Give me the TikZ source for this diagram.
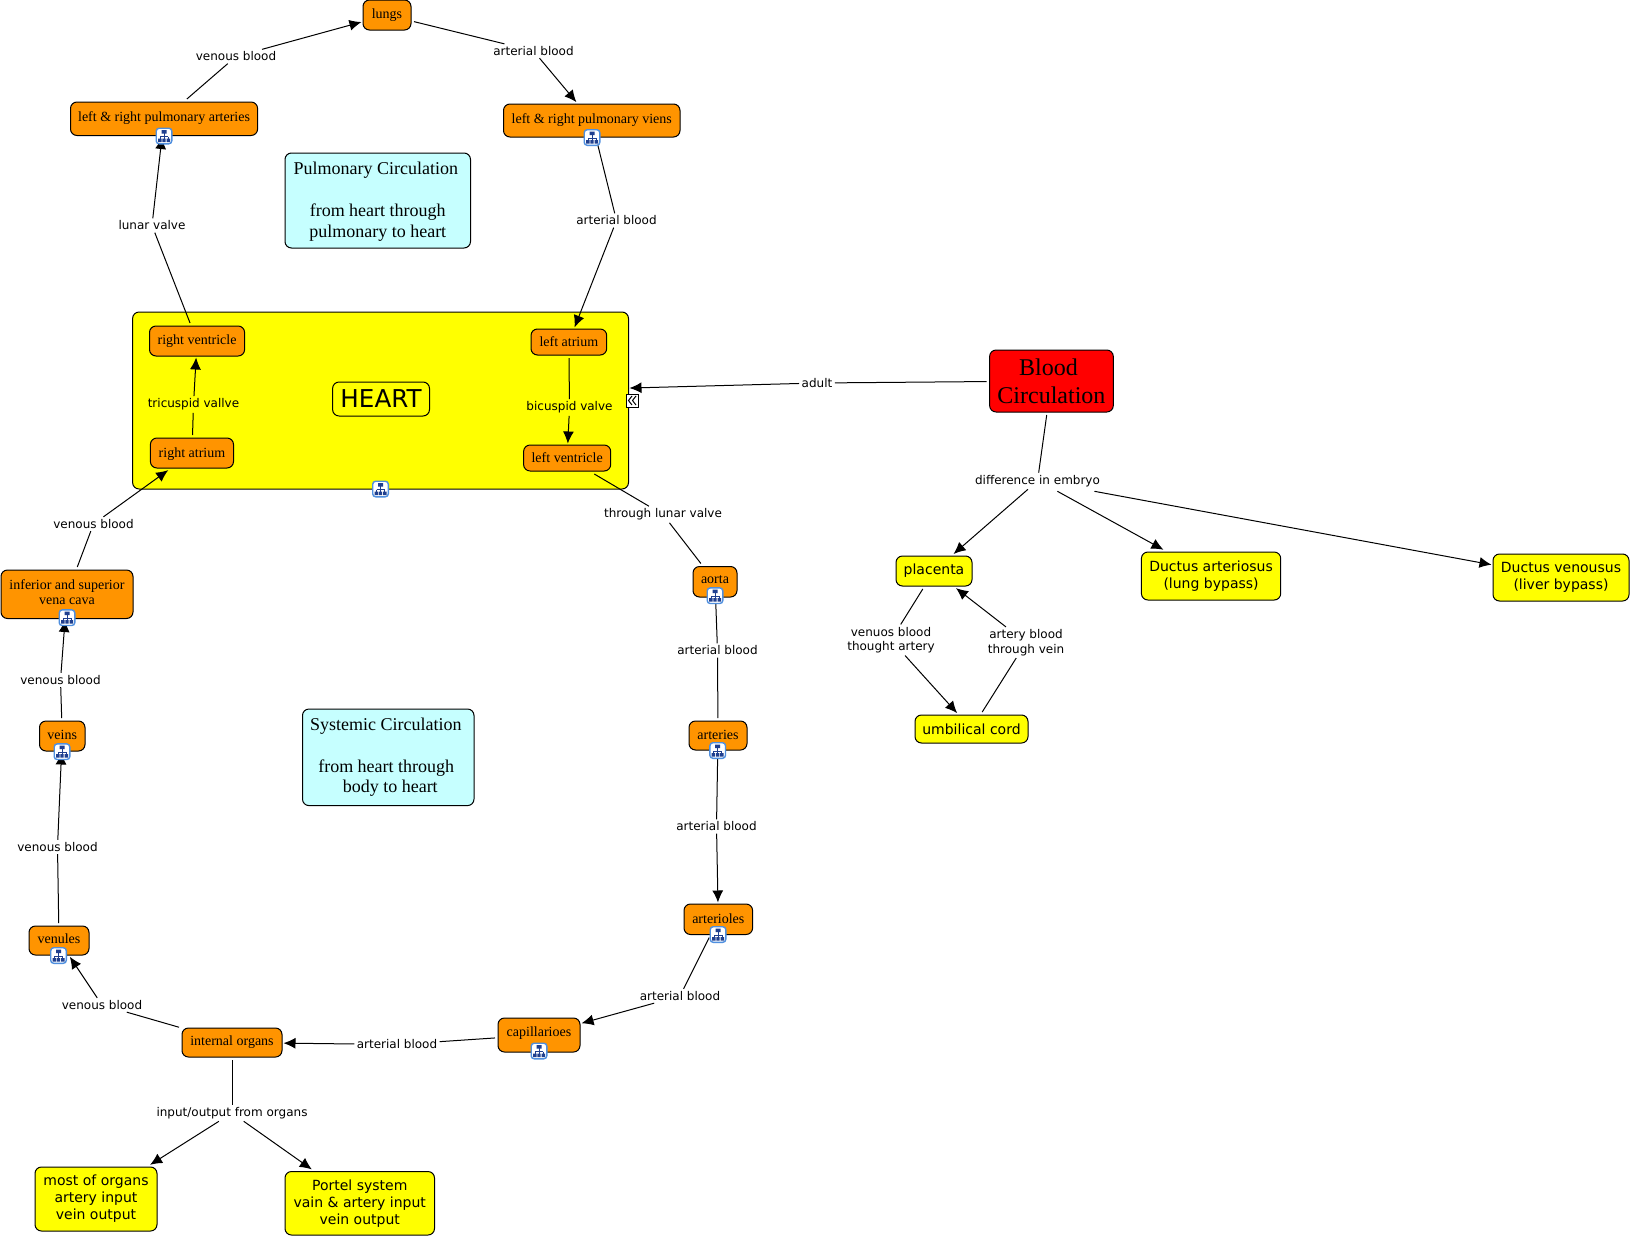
\documentclass[tikz,border=0pt]{standalone}
\usepackage{fontspec}
\setmainfont{Liberation Serif}
\newfontfamily\vdfont{DejaVu Sans}
\usetikzlibrary{arrows.meta}
\definecolor{cmorange}{RGB}{255,148,0}
\definecolor{cmcyan}{RGB}{198,255,255}
\definecolor{cmblue}{RGB}{31,63,143}
\definecolor{cmframe}{RGB}{79,143,223}
\definecolor{cmyellow}{RGB}{255,255,0}
\definecolor{cmred}{RGB}{255,0,0}
\tikzset{
  conc/.style={draw=black, line width=1pt, rounded corners=6.5pt, inner sep=0pt, outer sep=3pt, align=center},
  orangebox/.style={conc, fill=cmorange, font=\fontsize{14}{15.5}\selectfont},
  yellowbox/.style={conc, fill=cmyellow, font=\vdfont\fontsize{14}{17}\selectfont},
  cyanbox/.style={conc, fill=cmcyan, font=\fontsize{18}{20.8}\selectfont},
  lab/.style={inner sep=1.5pt, outer sep=1pt, align=center, font=\vdfont\fontsize{12}{14.5}\selectfont},
  conn/.style={draw=black, line width=1pt},
  arr/.style={conn, -{Latex[length=12pt,width=11pt]}, shorten >=-1.5pt}
}
\newcommand{\link}[3]{\draw[conn] (#1) -- (#2); \draw[arr] (#2) -- (#3);}
\newcommand{\plain}[3]{\draw[conn] (#1) -- (#2); \draw[conn] (#2) -- (#3);}
\newcommand{\cbox}[7]{\node[#1, minimum width=#4-#3, minimum height=#6-#5] (#2) at ({(#3+#4)/2},{(#5+#6)/2}) {#7};}
\newcommand{\dep}[1]{\rule[-#1pt]{0pt}{0pt}}
\newcommand{\hgt}[1]{\rule{0pt}{#1pt}}
\newcommand{\tail}[1]{\hspace{#1pt}\mbox{}}
\newcommand{\cmicon}[2]{%
  \begin{scope}[shift={(#1,#2)}]
    \draw[draw=cmframe, line width=1.4pt, fill=white, rounded corners=3pt] (-7.8,-7.8) rectangle (7.8,7.8);
    \draw[cmblue, line width=.7pt] (0,-3) -- (0,3) (-4,0.5) -- (4,0.5) (-4,0.5) -- (-4,3) (4,0.5) -- (4,3);
    \fill[cmblue] (-2.5,-6) rectangle (2.5,-2.5) (-6,2.5) rectangle (-2.5,6) (-1.7,2.5) rectangle (1.7,6) (2.5,2.5) rectangle (6,6);
  \end{scope}}
\begin{document}
\begin{tikzpicture}[x=1pt,y=-1pt]
\useasboundingbox (0,0) rectangle (1630,1237);
\fill[white] (0,0) rectangle (1630,1237);
% heart container
\cbox{conc, fill=cmyellow}{heart}{132.6}{628.5}{312}{489}{}
% concepts
\cbox{orangebox}{lungs}{363}{411}{0}{30}{\hgt{11}lungs}
\cbox{orangebox}{pa}{70.5}{257.6}{102}{135.5}{left \& right pulmonary arteries\dep{5}}
\cbox{orangebox}{pv}{503.5}{680}{104}{137}{left \& right pulmonary viens}
\cbox{cyanbox}{pulm}{285}{470.5}{153}{248}{\hgt{14.5}Pulmonary Circulation\tail{4}\\[20.8pt]from heart through\\pulmonary to heart}
\cbox{orangebox}{rv}{149.5}{244.6}{326}{356}{right ventricle}
\cbox{orangebox}{la}{531}{606.7}{329}{355}{left atrium}
\cbox{conc, fill=cmyellow, font=\vdfont\fontsize{24.6}{26}\selectfont}{hearttitle}{332.6}{429.5}{382}{416}{HEART}
\cbox{orangebox}{ra}{150.4}{233.5}{438}{468}{\hgt{11.5}right atrium}
\cbox{orangebox}{lv}{523.6}{610.7}{445}{471}{left ventricle}
\cbox{conc, fill=cmred, font=\fontsize{24}{28}\selectfont}{blood}{989.6}{1113.3}{350}{412}{\hgt{18}Blood\tail{6}\\Circulation}
\cbox{yellowbox}{plac}{896}{972}{556}{586}{placenta}
\cbox{yellowbox}{da}{1141.4}{1280.7}{552}{600}{Ductus arteriosus\\(lung bypass)}
\cbox{yellowbox}{dv}{1493}{1629}{554}{601}{Ductus venousus\\(liver bypass)}
\cbox{yellowbox}{cord}{915}{1028}{715}{743}{umbilical cord}
\cbox{orangebox}{aorta}{693}{737}{566.5}{597}{aorta\dep{4}}
\cbox{orangebox}{art}{689}{747}{721}{750}{arteries\dep{2}}
\cbox{orangebox}{artl}{684}{752.6}{904}{934.5}{arterioles\dep{2}}
\cbox{orangebox}{cap}{498}{580}{1018}{1052}{capillarioes\dep{7}}
\cbox{orangebox}{org}{182}{282}{1028}{1057}{internal organs}
\cbox{orangebox}{ven}{29}{89}{926}{955}{venules\dep{4}}
\cbox{orangebox}{veins}{39.5}{85}{721}{751}{veins\dep{2}}
\cbox{orangebox}{cava}{1}{133}{570}{618.5}{inferior and superior\\vena cava\dep{4}}
\cbox{yellowbox}{most}{35}{157}{1167}{1231}{most of organs\\artery input\\vein output}
\cbox{yellowbox}{port}{285}{434.5}{1171.5}{1235}{Portel system\\vain \& artery input\\vein output}
\cbox{cyanbox}{sys}{302.5}{474}{709}{805.6}{Systemic Circulation\tail{5}\\[20.8pt]from heart through\tail{4}\\\hspace{4pt}body to heart}
% labels
\node[lab] (l1) at (236,56.5) {venous blood};
\node[lab] (l2) at (533.5,51) {arterial blood};
\node[lab] (l3) at (616.5,220.5) {arterial blood};
\node[lab] (l4) at (152,225.5) {lunar valve};
\node[lab] (l5) at (193.5,404.5) {tricuspid vallve};
\node[lab] (l6) at (569.5,407.5) {bicuspid valve};
\node[lab] (l7) at (817,383) {adult};
\node[lab] (l8) at (1037.5,481) {difference in embryo};
\node[lab] (l9) at (663,514.5) {through lunar valve};
\node[lab] (l10) at (93.5,524) {venous blood};
\node[lab] (l11) at (717.5,650.5) {arterial blood};
\node[lab] (l12) at (60.5,680) {venous blood};
\node[lab] (l13) at (57.5,847) {venous blood};
\node[lab] (l14) at (716.5,826.5) {arterial blood};
\node[lab] (l15) at (680,996) {arterial blood};
\node[lab] (l16) at (102,1005) {venous blood};
\node[lab] (l17) at (397,1044.5) {arterial blood};
\node[lab] (l18) at (232,1113) {input/output from organs};
\node[lab] (l19) at (891,640) {venuos blood\\thought artery};
\node[lab] (l20) at (1026,642.5) {artery blood\\through vein};
\coordinate (heartin) at (631,388);
% connectors
\link{pa}{l1}{lungs}
\link{lungs}{l2}{pv}
\link{pv}{l3}{la}
\link{rv}{l4}{pa}
\link{ra}{l5}{rv}
\link{la}{l6}{lv}
\draw[conn] (blood) -- (l7);
\draw[arr] (l7) -- (heartin);
\draw[conn] (blood) -- (l8);
\draw[arr] (l8) -- (plac);
\draw[arr] ([xshift=-45pt,yshift=-2pt]l8.south east) -- (da);
\draw[arr] ([xshift=-8pt,yshift=-2pt]l8.south east) -- (dv);
\plain{lv}{l9}{aorta}
\link{cava}{l10}{ra}
\plain{aorta}{l11}{art}
\link{veins}{l12}{cava}
\link{ven}{l13}{veins}
\link{art}{l14}{artl}
\link{artl}{l15}{cap}
\link{org}{l16}{ven}
\link{cap}{l17}{org}
\draw[conn] (org) -- (l18);
\draw[arr] (l18) -- (most);
\draw[arr] (l18) -- (port);
\link{plac}{l19}{cord}
\link{cord}{l20}{plac}
% icons
\cmicon{164}{136}
\cmicon{592}{137.5}
\cmicon{380.5}{489}
\cmicon{67}{617.7}
\cmicon{62}{751.7}
\cmicon{58.5}{955.5}
\cmicon{715}{595.7}
\cmicon{717.7}{750.5}
\cmicon{718}{934.5}
\cmicon{539}{1051}
% collapse marker
\draw[black, line width=1pt, fill=white] (626.7,394) rectangle (638.3,407);
\draw[black, line width=1pt] (632,396) -- (628.5,400.5) -- (632,405) (636,396) -- (632.5,400.5) -- (636,405);
\end{tikzpicture}
\end{document}
